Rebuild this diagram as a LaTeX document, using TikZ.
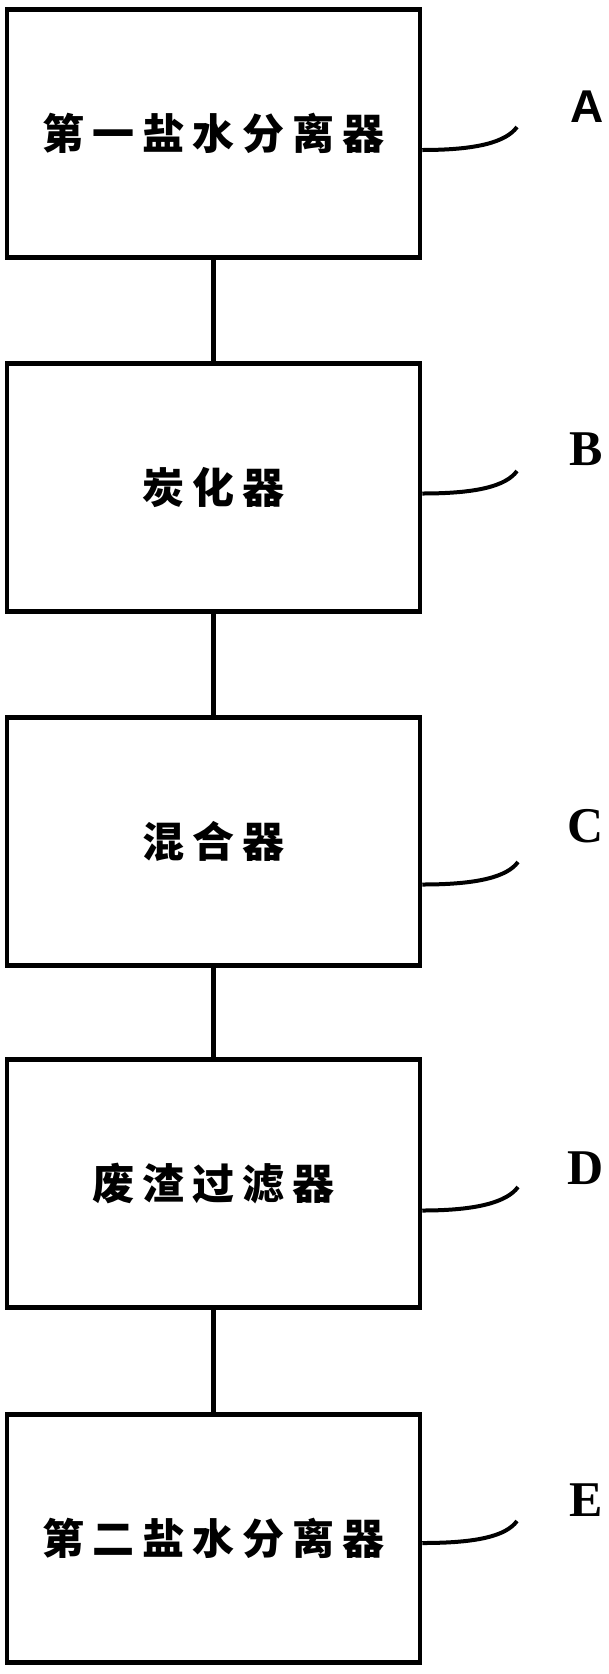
\documentclass[tikz,border=0pt]{standalone}
\usepackage{fontspec}
\setmainfont{Liberation Serif}
\newfontfamily\cjk[LetterSpace=19]{Noto Sans CJK SC}
\newfontfamily\lsans{Liberation Sans}
\usetikzlibrary{positioning}

\begin{document}
\begin{tikzpicture}[
    x=1pt, y=1pt,
    node distance=101.5pt,
    box/.style={rectangle, draw, line width=4.5pt, minimum width=413pt, minimum height=248pt, inner sep=0pt, font=\cjk\bfseries\fontsize{42}{50}\selectfont},
    link/.style={line width=4.5pt},
    tick/.style={line width=4pt},
    lbl/.style={inner sep=0pt, font=\bfseries\fontsize{50}{60}\selectfont}
]
\useasboundingbox (0,0) rectangle (608,-1674);

\node[box] (sep1) at (213.5,-133.5) {第一盐水分离器};
\node[box, below=of sep1] (carb) {炭化器};
\node[box, below=of carb] (mix) {混合器};
\node[box, below=89.5pt of mix] (filt) {废渣过滤器};
\node[box, below=102.5pt of filt] (sep2) {第二盐水分离器};

\draw[link] (sep1) -- (carb);
\draw[link] (carb) -- (mix);
\draw[link] (mix) -- (filt);
\draw[link] (filt) -- (sep2);

% reference letters
\node[lbl, font=\lsans\bfseries\fontsize{46}{55}\selectfont] (labA) at (587,-107) {A};
\node[lbl] (labB) at (586,-449) {B};
\node[lbl] (labC) at (586,-826) {C};
\node[lbl] (labD) at (586,-1168) {D};
\node[lbl] (labE) at (586,-1500) {E};

\coordinate (endA) at (517,-127);
\coordinate (endB) at (517,-471);
\coordinate (endC) at (518,-862);
\coordinate (endD) at (518,-1187);
\coordinate (endE) at (517,-1521);

\draw[tick] ([yshift=-16.5pt]sep1.east) .. controls +(55,0) and +(-11,-15) .. (endA);
\draw[tick] ([yshift=-6pt]carb.east) .. controls +(55,0) and +(-11,-15) .. (endB);
\draw[tick] ([yshift=-43pt]mix.east) .. controls +(55,0) and +(-11,-15) .. (endC);
\draw[tick] ([yshift=-27pt]filt.east) .. controls +(55,0) and +(-11,-15) .. (endD);
\draw[tick] ([yshift=-4.5pt]sep2.east) .. controls +(55,0) and +(-11,-15) .. (endE);
\end{tikzpicture}
\end{document}
